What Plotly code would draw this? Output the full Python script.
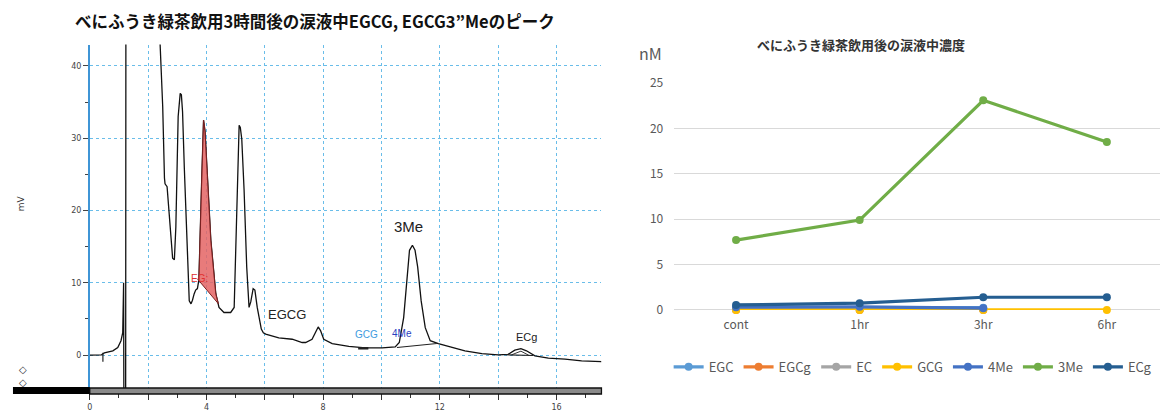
import plotly.graph_objects as go

W, H = 1160, 415

# ---------------- Left: chromatogram (time in min, signal in mV) ----------------
chrom_t = [0.0, 0.40, 0.50, 0.79, 0.96, 1.07, 1.13, 1.15, 1.16, 1.17, 1.23, 1.24,
           2.38, 2.38, 2.43, 2.50, 2.56, 2.58, 2.65, 2.72, 2.80, 2.84, 2.90, 2.95,
           3.03, 3.10, 3.14, 3.18, 3.24, 3.32, 3.41, 3.47, 3.52, 3.58, 3.63, 3.69,
           3.74, 3.83, 3.87, 3.90, 3.95, 4.03, 4.15, 4.32, 4.43, 4.60, 4.83, 4.95,
           5.06, 5.12, 5.16, 5.21, 5.29, 5.38, 5.46, 5.52, 5.60, 5.66, 5.74, 5.82,
           5.88, 5.95, 6.03, 6.48, 6.94, 7.28, 7.40, 7.62, 7.74, 7.83, 7.91, 8.02,
           8.31, 8.88, 9.45, 10.02, 10.47, 10.61, 10.76, 10.87, 10.96, 11.06, 11.15,
           11.24, 11.36, 11.50, 11.67, 11.95, 12.29, 12.86, 13.44, 14.00, 14.34,
           14.57, 14.78, 14.97, 15.26, 15.72, 16.29, 16.86, 17.54]
chrom_mv = [0.0, 0.05, 0.3, 0.6, 1.05, 2.0, 3.1, 10.0, 10.0, -8.0, -8.0, 60.0,
            60.0, 46.0, 40.9, 34.4, 24.5, 23.7, 23.3, 19.1, 14.5, 13.4, 13.2, 17.7,
            33.0, 36.2, 36.0, 33.7, 26.0, 15.9, 7.5, 7.1, 7.6, 8.5, 9.0, 9.2,
            10.4, 23.3, 31.0, 32.5, 31.0, 25.1, 15.9, 8.5, 6.6, 5.9, 5.9, 6.6,
            21.4, 31.8, 31.5, 29.9, 22.8, 12.2, 6.6, 7.4, 9.2, 9.0, 6.6, 4.8,
            3.6, 3.1, 2.9, 2.4, 2.2, 1.75, 1.75, 2.2, 3.1, 3.9, 3.4, 2.2,
            1.6, 1.2, 1.0, 1.0, 1.15, 1.75, 5.2, 10.8, 14.5, 15.2, 14.5,
            12.2, 7.5, 3.8, 2.0, 1.6, 1.2, 0.6, 0.2, 0.05, 0.1,
            0.7, 0.9, 0.6, -0.1, -0.4, -0.55, -0.8, -0.9]

# integration baselines (start/end time, start/end mV)
eg_base_t = [3.70, 4.41]
eg_base_mv = [10.5, 7.1]
me3_base_t = [10.53, 11.90]
me3_base_mv = [1.06, 1.60]
ecg_base_t = [14.25, 15.20]
ecg_base_mv = [0.05, -0.05]
ecg_hatch_t = [14.45, 14.78, 15.05]
ecg_hatch_mv = [0.03, 0.55, -0.02]
gcg_seg_t = [9.20, 9.55]
gcg_seg_mv = [0.95, 0.95]
event_t = [0.45, 0.45]
event_mv = [-0.9, 0.9]

chrom_x_ticks = [0, 2, 4, 6, 8, 10, 12, 14, 16]
chrom_x_labels = ["0", "", "4", "", "8", "", "12", "", "16"]
chrom_y_ticks = [0, 10, 20, 30, 40]

# ---------------- Right: tear concentration (nM) ----------------
timepoints = ["cont", "1hr", "3hr", "6hr"]
series_names = ["EGC", "EGCg", "EC", "GCG", "4Me", "3Me", "ECg"]
egc = [0.2, 0.25, 0.25, None]
egcg = [0.0, 0.0, 0.0, None]
ec = [0.05, 0.05, 0.05, None]
gcg = [0.0, 0.0, 0.0, 0.0]
me4 = [0.3, 0.35, 0.2, None]
me3 = [7.7, 9.9, 23.1, 18.5]
ecg = [0.55, 0.75, 1.4, 1.4]
series_values = [egc, egcg, ec, gcg, me4, me3, ecg]
series_colors = ["#5B9BD5", "#ED7D31", "#A5A5A5", "#FFC000", "#4472C4", "#70AD47", "#255E91"]


def px_x(x):
    return x / W


def px_y(y):
    # screen row -> paper fraction (compensates the vertical offset/scale seen in rendering)
    yf = (y - 10.6) / 0.955
    return 1 - yf / H


fig = go.Figure()

# chromatogram trace
fig.add_trace(go.Scatter(x=chrom_t, y=chrom_mv, mode="lines",
                         line=dict(color="#111111", width=1.3),
                         xaxis="x", yaxis="y", showlegend=False, hoverinfo="skip"))

# red filled EG area: trace points within the baseline span, closed by baseline
fill_t, fill_mv = [eg_base_t[0]], [eg_base_mv[0]]
for t, v in zip(chrom_t, chrom_mv):
    if eg_base_t[0] < t < eg_base_t[1]:
        fill_t.append(t)
        fill_mv.append(v)
fill_t += [eg_base_t[1], eg_base_t[0]]
fill_mv += [eg_base_mv[1], eg_base_mv[0]]
fig.add_trace(go.Scatter(x=fill_t, y=fill_mv, mode="lines", fill="toself",
                         fillcolor="rgba(228,100,100,0.85)",
                         line=dict(color="#7a2020", width=1),
                         xaxis="x", yaxis="y", showlegend=False, hoverinfo="skip"))

for bt, bv, wd, dash in [(me3_base_t, me3_base_mv, 1.1, "solid"),
                         (ecg_base_t, ecg_base_mv, 1.1, "solid"),
                         (ecg_hatch_t, ecg_hatch_mv, 0.9, "solid"),
                         (gcg_seg_t, gcg_seg_mv, 2.5, "solid"),
                         (event_t, event_mv, 1.2, "dash")]:
    fig.add_trace(go.Scatter(x=bt, y=bv, mode="lines",
                             line=dict(color="#222222", width=wd, dash=dash),
                             xaxis="x", yaxis="y", showlegend=False, hoverinfo="skip"))

# concentration lines
for name, vals, col in zip(series_names, series_values, series_colors):
    fig.add_trace(go.Scatter(x=timepoints, y=vals, name=name, mode="lines+markers",
                             line=dict(color=col, width=3.2),
                             marker=dict(color=col, size=8, symbol="circle"),
                             cliponaxis=False, connectgaps=False,
                             xaxis="x2", yaxis="y2"))

grid_blue = "#69bde9"
fig.update_layout(
    width=W, height=H, autosize=False,
    margin=dict(l=0, r=0, t=0, b=0),
    paper_bgcolor="white", plot_bgcolor="white",
    font=dict(family="Noto Sans CJK JP", color="#595959"),
    xaxis=dict(domain=[px_x(87), px_x(600)], range=[0, 17.54],
               tickmode="array", tickvals=chrom_x_ticks, ticktext=chrom_x_labels,
               showgrid=True, gridcolor=grid_blue, griddash="dot", gridwidth=1,
               zeroline=False, showline=False,
               ticks="outside", ticklen=8, tickcolor="#333333",
               minor=dict(dtick=1, ticks="outside", ticklen=6, tickcolor="#333333", showgrid=False),
               tickfont=dict(family="DejaVu Sans", size=8, color="#444444"),
               anchor="y"),
    yaxis=dict(domain=[px_y(390), px_y(45)], range=[-4.96, 42.96],
               tickmode="array", tickvals=chrom_y_ticks,
               showgrid=True, gridcolor=grid_blue, griddash="dot", gridwidth=1,
               zeroline=False, showline=True, linecolor="#3f95d6", linewidth=1.5,
               ticks="outside", ticklen=5, tickcolor="#444444",
               minor=dict(dtick=5, ticks="outside", ticklen=3, tickcolor="#444444", showgrid=False),
               tickfont=dict(family="DejaVu Sans", size=8, color="#444444"),
               anchor="x"),
    xaxis2=dict(domain=[px_x(673), 1.0], type="category", range=[-0.5, 3.43],
                showgrid=False, zeroline=False, showline=False, ticks="",
                tickfont=dict(size=12, color="#595959"), ticklabelstandoff=6,
                anchor="y2"),
    yaxis2=dict(domain=[px_y(309.3), px_y(83.3)], range=[0, 25],
                dtick=5, showgrid=True, gridcolor="#d9d9d9", gridwidth=1,
                zeroline=True, zerolinecolor="#d9d9d9", zerolinewidth=1,
                showline=False, ticks="",
                tickfont=dict(size=12, color="#595959"), ticklabelstandoff=10,
                anchor="x2"),
    legend=dict(orientation="h", x=px_x(912), xanchor="center",
                y=px_y(366), yanchor="middle",
                font=dict(size=13, color="#595959"), itemwidth=30,
                bgcolor="rgba(0,0,0,0)", tracegroupgap=0),
    showlegend=True,
)

# x-axis bar of the chromatogram and the black block on its left
fig.add_shape(type="rect", xref="paper", yref="paper",
              x0=px_x(87), x1=px_x(600), y0=px_y(393), y1=px_y(387),
              fillcolor="#8a8a8a", line=dict(color="#111111", width=1.3), layer="above")
fig.add_shape(type="rect", xref="paper", yref="paper",
              x0=px_x(10), x1=px_x(87), y0=px_y(393), y1=px_y(386),
              fillcolor="#000000", line=dict(width=0), layer="above")

annos = [
    dict(text="<b>べにふうき緑茶飲用3時間後の涙液中EGCG, EGCG3”Meのピーク</b>",
         xref="paper", yref="paper", x=px_x(313), y=px_y(22),
         font=dict(family="Noto Sans CJK JP", size=16.5, color="#111111")),
    dict(text="<b>べにふうき緑茶飲用後の涙液中濃度</b>",
         xref="paper", yref="paper", x=px_x(860), y=px_y(45),
         font=dict(family="Noto Sans CJK JP", size=13, color="#333333")),
    dict(text="nM", xref="paper", yref="paper", x=px_x(649), y=px_y(53),
         font=dict(family="Noto Sans CJK JP", size=16, color="#595959")),
    dict(text="mV", xref="paper", yref="paper", x=px_x(18), y=px_y(203), textangle=-90,
         font=dict(family="DejaVu Sans", size=9, color="#333333")),
    dict(text="◇<br>◇", xref="paper", yref="paper", x=px_x(20), y=px_y(375),
         font=dict(family="DejaVu Sans", size=10, color="#333333")),
    dict(text="EGCG", xref="x", yref="y", x=6.77, y=5.6,
         font=dict(family="Liberation Sans", size=13, color="#222222")),
    dict(text="3Me", xref="x", yref="y", x=10.94, y=17.8,
         font=dict(family="Liberation Sans", size=15, color="#222222")),
    dict(text="GCG", xref="x", yref="y", x=9.5, y=2.8,
         font=dict(family="Liberation Sans", size=10, color="#3d9be0")),
    dict(text="4Me", xref="x", yref="y", x=10.7, y=2.95,
         font=dict(family="Liberation Sans", size=10, color="#2a3fc0")),
    dict(text="ECg", xref="x", yref="y", x=14.97, y=2.5,
         font=dict(family="Liberation Sans", size=11, color="#222222")),
    dict(text="EG:", xref="x", yref="y", x=3.75, y=10.6,
         font=dict(family="Liberation Sans", size=10, color="#e03030")),
]
for a in annos:
    a.setdefault("showarrow", False)
    a.setdefault("xanchor", "center")
    a.setdefault("yanchor", "middle")
    fig.add_annotation(**a)

fig.write_html(
    "out.html",
    config={"responsive": False, "displayModeBar": False},
    post_script="document.body.style.margin='0';document.body.style.overflow='hidden';",
)
